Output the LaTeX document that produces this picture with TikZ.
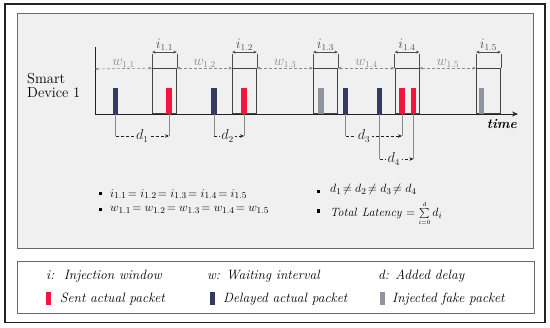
\documentclass[tikz,border=0pt]{standalone}
\usetikzlibrary{arrows.meta}
\definecolor{panel}{HTML}{F0F0F0}
\definecolor{navy}{HTML}{343B5E}
\definecolor{pktred}{HTML}{F2163F}
\definecolor{fake}{HTML}{8E959F}
\definecolor{frame}{HTML}{222222}
\definecolor{pborder}{HTML}{6A6A6A}
\definecolor{dgray}{HTML}{8A8A8A}
\begin{document}
\begin{tikzpicture}[x=1pt,y=-1pt,
  pkt/.style={draw=none,inner sep=0pt,minimum width=5.5pt,minimum height=26pt,anchor=south},
  win/.style={draw=frame!85,line width=0.9pt,inner sep=0pt,minimum width=24pt,minimum height=45pt,anchor=south west},
  warr/.style={dgray,densely dashed,line width=0.6pt,{Stealth[length=3.5pt,width=3pt]}-{Stealth[length=3.5pt,width=3pt]}},
  iarr/.style={frame!80,line width=0.6pt,{Stealth[length=3.5pt,width=3pt]}-{Stealth[length=3.5pt,width=3pt]}},
  dline/.style={dgray,line width=0.6pt},
  darr/.style={frame,densely dashed,line width=0.7pt,-{Stealth[length=4pt,width=3.5pt]}},
  lab/.style={font=\fontsize{13.5}{14}\selectfont,inner sep=0.5pt},
  dlab/.style={font=\fontsize{13.5}{14}\selectfont,inner sep=1.5pt,fill=panel},
  txt/.style={font=\fontsize{12.5}{14}\selectfont,anchor=west,inner sep=0pt},
  leg/.style={font=\fontsize{13.5}{15}\selectfont\itshape,anchor=west,inner sep=0pt},
  lbar/.style={draw=none,inner sep=0pt,minimum width=5pt,minimum height=13pt},
  devlab/.style={anchor=base west,font=\fontsize{14.5}{15}\selectfont,inner sep=0pt}
]
\useasboundingbox (0,0) rectangle (550,328);
% frames
\draw[frame,line width=1.6pt] (5,4) rectangle (545,322.5);
\draw[pborder,fill=panel,line width=0.8pt] (17,13) rectangle (533,248);
\draw[pborder,fill=white,line width=0.8pt] (17,261) rectangle (534,313);

% label
\node[devlab] (dev1) at (27,83.5) {Smart};
\node[devlab] (dev2) at (27,98) {Device 1};

% axes
\coordinate (o) at (95,114);
\coordinate (top) at (95,47);
\coordinate (tend) at (518,114);
\draw[frame,line width=0.9pt] (top) -- (o);
\draw[frame,line width=0.9pt,-{Stealth[length=6pt,width=5pt]}] (o) -- (tend);
\node[anchor=north east,font=\fontsize{13.5}{13}\selectfont\itshape\bfseries,inner sep=0pt] (time) at (517,119) {time};

% windows
\node[win] (w1) at (152,114) {};
\node[win] (w2) at (232,114) {};
\node[win] (w3) at (313,114) {};
\node[win] (w4) at (394.5,114) {};
\node[win] (w5) at (476,114) {};

% packets
\node[pkt,fill=navy] (p1) at (115.5,114) {};
\node[pkt,fill=pktred] (r1) at (169,114) {};
\node[pkt,fill=navy] (p2) at (214,114) {};
\node[pkt,fill=pktred] (r2) at (244,114) {};
\node[pkt,fill=fake] (f3) at (321,114) {};
\node[pkt,fill=navy] (p3) at (345.5,114) {};
\node[pkt,fill=navy] (p4) at (379.5,114) {};
\node[pkt,fill=pktred] (r3) at (402,114) {};
\node[pkt,fill=pktred] (r4) at (413.5,114) {};
\node[pkt,fill=fake] (f5) at (481.5,114) {};

% waiting intervals
\coordinate (a0) at (95,69);
\draw[warr] (a0) -- (w1.north west) node[midway,above,lab] {$w_{1.1}$};
\draw[warr] (w1.north east) -- (w2.north west) node[midway,above,lab] {$w_{1.2}$};
\draw[warr] (w2.north east) -- (w3.north west) node[midway,above,lab] {$w_{1.3}$};
\draw[warr] (w3.north east) -- (w4.north west) node[midway,above,lab] {$w_{1.4}$};
\draw[warr] (w4.north east) -- (w5.north west) node[midway,above,lab] {$w_{1.5}$};

% injection windows brackets
\foreach \w/\n in {w1/1,w2/2,w3/3,w4/4,w5/5}{
  \draw[frame!80,line width=0.6pt] (\w.north west) -- ++(0,-14) coordinate (\w bl);
  \draw[frame!80,line width=0.6pt] (\w.north east) -- ++(0,-14) coordinate (\w br);
  \draw[iarr] ([yshift=2pt]\w bl) -- ([yshift=2pt]\w br) node[midway,above=1pt,lab] {$i_{1.\n}$};
}

% delays
\draw[dline] (p1.south) -- ++(0,22) coordinate (d1a);
\draw[dline] (r1.south) -- (r1.south |- d1a) coordinate (d1b);
\draw[darr] (d1a) -- (d1b) node[pos=0.5,dlab] {$d_1$};
\draw[dline] (p2.south) -- ++(0,22) coordinate (d2a);
\draw[dline] (r2.south) -- (r2.south |- d2a) coordinate (d2b);
\draw[darr] (d2a) -- (d2b) node[pos=0.45,dlab] {$d_2$};
\draw[dline] (p3.south) -- ++(0,22) coordinate (d3a);
\draw[dline] (r3.south) -- (r3.south |- d3a) coordinate (d3b);
\draw[darr] (d3a) -- (d3b) node[pos=0.33,dlab] {$d_3$};
\draw[dline] (p4.south) -- ++(0,45) coordinate (d4a);
\draw[dline] (r4.south) -- (r4.south |- d4a) coordinate (d4b);
\draw[darr] (d4a) -- (d4b) node[pos=0.42,dlab] {$d_4$};

% bullets
\fill[black] (98.5,192) rectangle ++(3.5,3.5);
\fill[black] (98.5,208) rectangle ++(3.5,3.5);
\fill[black] (316.5,190) rectangle ++(3.5,3.5);
\fill[black] (316.5,209.5) rectangle ++(3.5,3.5);
\node[txt] (b1) at (110,194) {$i_{1.1}\!=i_{1.2}\!=i_{1.3}\!=i_{1.4}\!=i_{1.5}$};
\node[txt] (b2) at (110,210) {$w_{1.1}\!=w_{1.2}\!=w_{1.3}\!=w_{1.4}\!=w_{1.5}$};
\node[txt] (b3) at (330,190) {$d_1\!\neq d_2\!\neq d_3\!\neq d_4$};
\node[txt] (b4) at (330,213.5) {$\mathit{Total\ Latency} = \sum\limits_{\scriptscriptstyle i=0}^{\scriptscriptstyle d} d_i$};

% legend
\node[leg] (l1) at (46,276) {i:\ \ Injection window};
\node[leg] (l2) at (207,276) {w: Waiting interval};
\node[leg] (l3) at (378,276) {d: Added delay};
\node[lbar,fill=pktred] (lb1) at (48.5,299) {};
\node[leg] (l4) at (60,299) {Sent actual packet};
\node[lbar,fill=navy] (lb2) at (212,299) {};
\node[leg] (l5) at (223,299) {Delayed actual packet};
\node[lbar,fill=fake] (lb3) at (382,299) {};
\node[leg] (l6) at (392,299) {Injected fake packet};
\end{tikzpicture}
\end{document}
